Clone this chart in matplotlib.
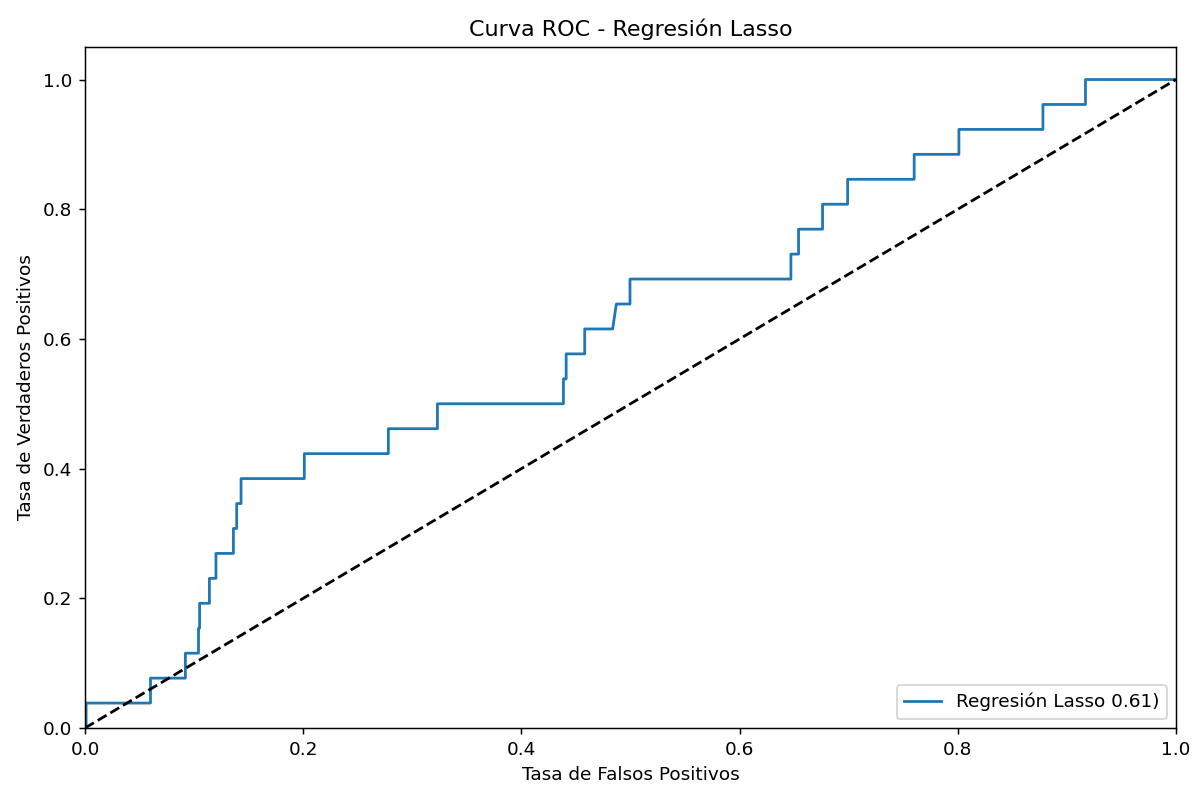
import matplotlib
matplotlib.use("Agg")
import matplotlib.pyplot as plt
import numpy as np

fpr = [0, 0.001, 0.001, 0.060, 0.060, 0.092, 0.092, 0.104, 0.104, 0.105, 0.105,
       0.114, 0.114, 0.120, 0.120, 0.136, 0.136, 0.139, 0.139, 0.143, 0.143,
       0.201, 0.201, 0.278, 0.278, 0.323, 0.323, 0.4385, 0.4385, 0.441, 0.441,
       0.458, 0.458, 0.4836, 0.487, 0.4995, 0.4995, 0.647, 0.647, 0.654, 0.654,
       0.676, 0.676, 0.699, 0.699, 0.760, 0.760, 0.801, 0.801, 0.878, 0.878,
       0.917, 0.917, 1.0]
tpr_counts = [0, 0, 1, 1, 2, 2, 3, 3, 4, 4, 5,
              5, 6, 6, 7, 7, 8, 8, 9, 9, 10,
              10, 11, 11, 12, 12, 13, 13, 14, 14, 15,
              15, 16, 16, 17, 17, 18, 18, 19, 19, 20,
              20, 21, 21, 22, 22, 23, 23, 24, 24, 25,
              25, 26, 26]
n_pos = 26
tpr = [c / n_pos for c in tpr_counts]
label = "Regresión Lasso 0.61)"

DPI = 1196 / 8.97
fig = plt.figure(figsize=(8.97, 785 / DPI), dpi=DPI)
ax = fig.add_subplot(111)
fig.subplots_adjust(left=0.0711, right=0.9833, top=0.940, bottom=0.0726)
ax.plot(fpr, tpr, color="#1f77b4", lw=1.5, label=label)
ax.plot([0, 1], [0, 1], "k--", lw=1.5)
ax.set_xlim(0, 1)
ax.set_ylim(0, 1.05)
ax.set_xlabel("Tasa de Falsos Positivos")
ax.set_ylabel("Tasa de Verdaderos Positivos")
ax.set_title("Curva ROC - Regresión Lasso")
ax.legend(loc="lower right")
fig.savefig("out.png", dpi=DPI)
